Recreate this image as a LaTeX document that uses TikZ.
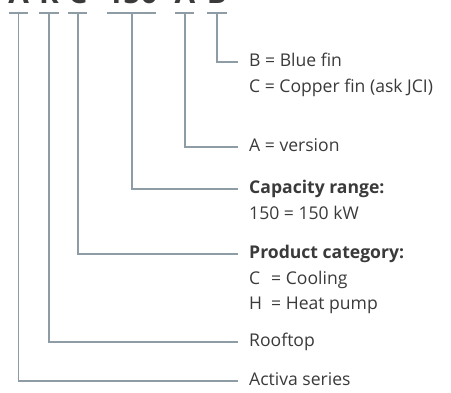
\documentclass[tikz,border=0pt]{standalone}
\usepackage{fontspec}
\setmainfont{Open Sans}
\usetikzlibrary{positioning}
\definecolor{linegray}{HTML}{8E9CA6}
\definecolor{textgray}{HTML}{3A3A3A}

\begin{document}
\begin{tikzpicture}[x=0.02cm,y=-0.02cm,
  conn/.style={draw=linegray,line width=0.6pt},
  lbl/.style={anchor=west,inner xsep=6.2pt,inner ysep=0pt,text=textgray,font=\fontsize{10}{14}\selectfont,text height=7.2pt,text depth=2pt},
  sub/.style={lbl,anchor=north west},
  code/.style={anchor=base,inner sep=0pt,text=textgray,font=\fontsize{17}{20}\selectfont\bfseries}]
\clip (0,0) rectangle (451,393);
% model code, cut off at the top
\node[code] (cSer) at (18.7,3) {A};
\node[code] (cRoof) at (49,3) {R};
\node[code] (cCat) at (78,3) {C};
\node[code] (cCap) at (132,3) {150};
\node[code] (cVer) at (185,3) {A};
\node[code] (cFin) at (217,3) {B};
% tops of the brackets
\coordinate (tSer) at (18.7,13);
\coordinate (tRoof) at (49,13);
\coordinate (tCat) at (78,13);
\coordinate (tCap) at (132,13);
\coordinate (tVer) at (185,13);
\coordinate (tFin) at (217,13);
\foreach \x/\w in {18.7/9.7, 49/10, 78/9.5, 132/24.5, 185/9.5, 217/10}
  \draw[conn] (\x-\w,13) -- (\x+\w,13);
% labels
\node[lbl] (lFin) at (238,62) {B = Blue fin};
\node[sub,below right=5pt and 0pt of lFin.south west] (lFin2) {C = Copper fin (ask JCI)};
\node[lbl] (lVer) at (238,147) {A = version};
\node[lbl] (lCap) at (238,189) {\bfseries Capacity range:};
\node[sub,below right=5pt and 0pt of lCap.south west] (lCap2) {150 = 150 kW};
\node[lbl] (lCat) at (238,254) {\bfseries Product category:};
\node[sub,below right=5pt and 0pt of lCat.south west] (lCat2) {\makebox[1.25em][l]{C}= Cooling};
\node[sub,below right=5pt and 0pt of lCat2.south west] (lCat3) {\makebox[1.25em][l]{H}= Heat pump};
\node[lbl] (lRoof) at (238,342) {Rooftop};
\node[lbl] (lSer) at (238,381) {Activa series};
% connectors
\draw[conn] (tFin) |- (lFin.west);
\draw[conn] (tVer) |- (lVer.west);
\draw[conn] (tCap) |- (lCap.west);
\draw[conn] (tCat) |- (lCat.west);
\draw[conn] (tRoof) |- (lRoof.west);
\draw[conn] (tSer) |- (lSer.west);
\end{tikzpicture}
\end{document}
